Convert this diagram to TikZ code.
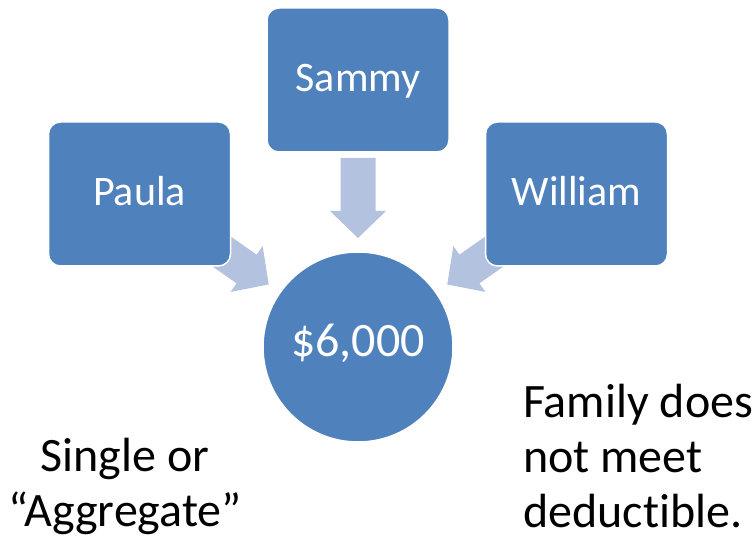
\documentclass[tikz,border=0pt]{standalone}
\usepackage{fontspec}
\setmainfont{Carlito}[Ligatures=NoCommon]
\usetikzlibrary{calc,backgrounds}

\definecolor{boxblue}{HTML}{4F81BD}
\definecolor{arrowblue}{HTML}{B3C2DE}

% Block arrow pointing from node #2 towards node #1, stopping short of #1
\newcommand\blockarrow[2]{%
  \fill[arrowblue]
    ($(#1)!109pt!(#2)$)
    -- ($(#1)!136pt!(#2)!28pt!90:(#2)$)
    -- ($(#1)!136pt!(#2)!17.5pt!90:(#2)$)
    -- ($(#1)!189pt!(#2)!17.5pt!90:(#2)$)
    -- ($(#1)!189pt!(#2)!17.5pt!-90:(#2)$)
    -- ($(#1)!136pt!(#2)!17.5pt!-90:(#2)$)
    -- ($(#1)!136pt!(#2)!28pt!-90:(#2)$)
    -- cycle;}

\begin{document}
\begin{tikzpicture}[x=1pt,y=1pt,
  person/.style={rectangle, rounded corners=12pt, fill=boxblue, draw=white,
    line width=1.5pt, minimum width=182pt, minimum height=144pt, inner sep=0pt,
    text=white, font=\fontsize{42}{50}\selectfont,
    text height=24pt, text depth=0pt},
  total/.style={circle, fill=boxblue, draw=white, line width=1.5pt,
    minimum size=190pt, inner sep=0pt, text=white,
    font=\fontsize{48}{55}\selectfont, text height=20pt, text depth=0pt},
  note/.style={font=\fontsize{48}{55}\selectfont, text=black, inner sep=0pt}]
\useasboundingbox (0,0) rectangle (753,541);

\node[total]  (money)   at (358,194)   {\$6,000};
\node[person] (sammy)   at (358,461)   {Sammy};
\node[person] (paula)   at (139.5,347) {Paula};
\node[person] (william) at (576.5,347) {William};

\begin{pgfonlayer}{background}
  \blockarrow{money}{sammy}
  \blockarrow{money}{paula}
  \blockarrow{money}{william}
\end{pgfonlayer}

% anchor=base sits on the last line of a multi-line node
\node[note, align=center, anchor=base] (single) at (125,14)
  {Single or\\“Aggregate”};
\node[note, align=left, anchor=base west] (family) at (523,13)
  {Family does\\not meet\\deductible.};
\end{tikzpicture}
\end{document}
